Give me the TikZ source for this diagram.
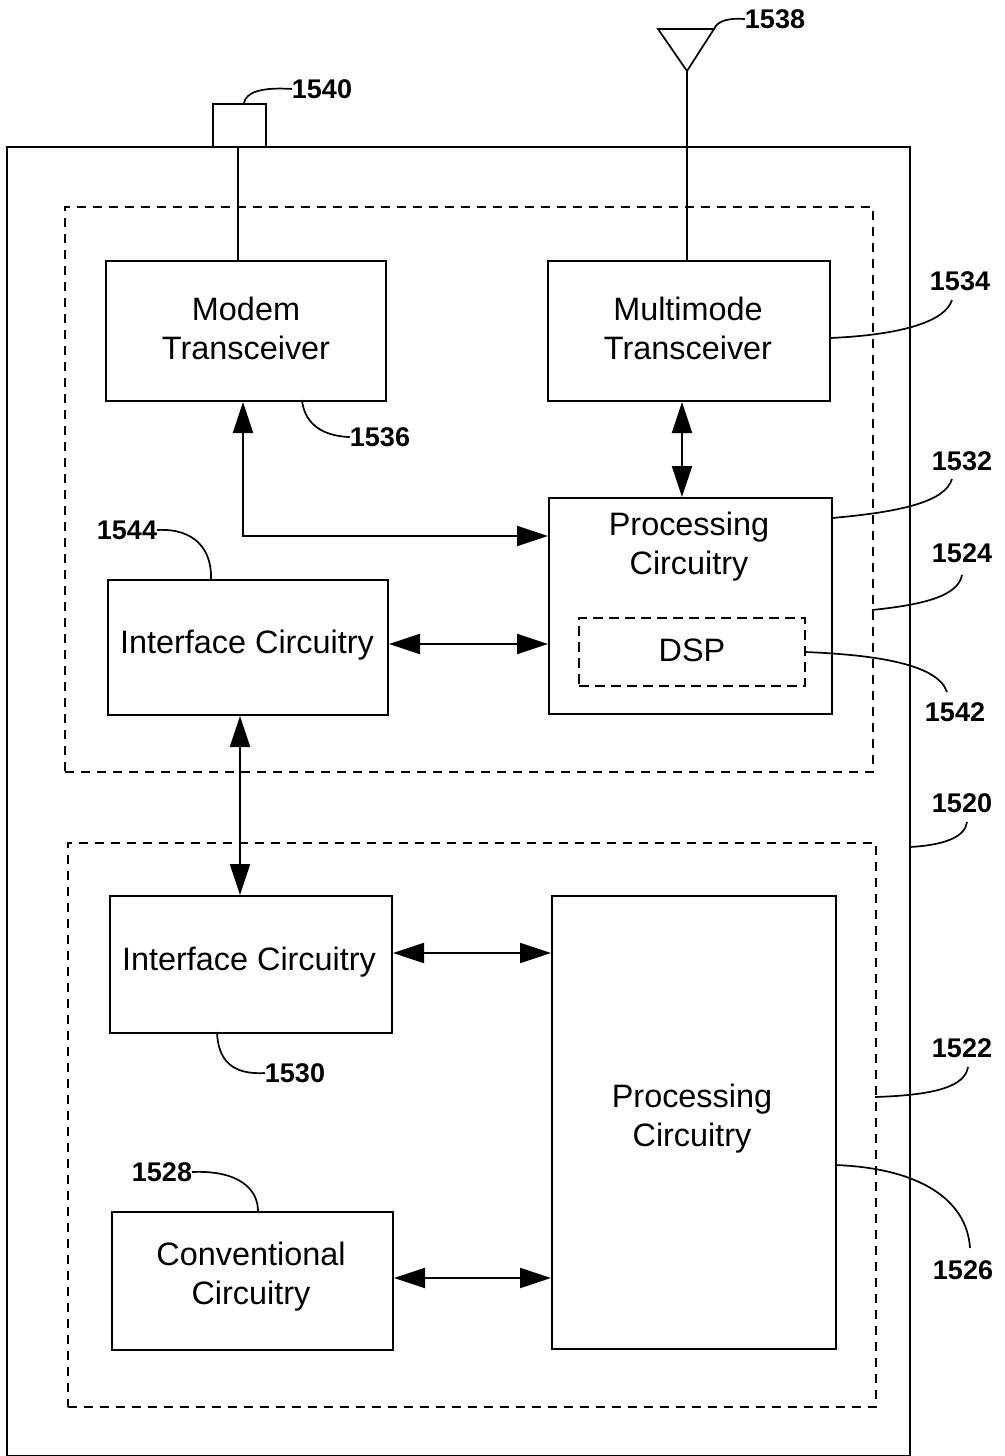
\documentclass[tikz,border=0pt]{standalone}
\usepackage{fontspec}
\setmainfont{Liberation Sans}
\usetikzlibrary{arrows.meta,calc}
\begin{document}
\begin{tikzpicture}[x=1pt,y=-1pt,
  box/.style={draw,line width=2pt,inner sep=0pt,anchor=north west},
  dbox/.style={draw,line width=2.2pt,dash pattern=on 9pt off 7pt,inner sep=0pt,anchor=north west},
  txt/.style={font=\fontsize{32.4}{39}\selectfont,align=center,inner sep=0pt},
  num/.style={font=\fontsize{27}{30}\bfseries\selectfont,inner sep=0pt},
  lead/.style={line width=1.7pt},
  wire/.style={line width=1.7pt},
  biarrow/.style={line width=2.2pt,{Triangle[length=31pt,width=20pt]}-{Triangle[length=31pt,width=20pt]}}
]
\useasboundingbox (0,0) rectangle (1004,1456);
% outer device
\node[box,minimum width=903pt,minimum height=1309pt] (outer) at (6,146) {};
\node[dbox,minimum width=808pt,minimum height=565pt] (dashu) at (64,206) {};
\node[dbox,minimum width=808pt,minimum height=564pt] (dashl) at (67,842) {};
% connector and antenna
\node[box,minimum width=53pt,minimum height=43pt] (conn) at (212,103) {};
\coordinate (antl) at (658,29);
\coordinate (antr) at (714,29);
\coordinate (anta) at (687,71);
\draw[line width=1.7pt,line join=miter] (antl) -- (antr) -- (anta) -- cycle;
% boxes
\node[box,minimum width=280pt,minimum height=140pt] (modem) at (105,260) {};
\node[box,minimum width=282pt,minimum height=140pt] (mm) at (547,260) {};
\node[box,minimum width=283pt,minimum height=216pt] (procu) at (548,497) {};
\node[draw,line width=2pt,dash pattern=on 10pt off 6pt,inner sep=0pt,anchor=north west,minimum width=226pt,minimum height=68pt] (dsp) at (578,617) {};
\node[box,minimum width=280pt,minimum height=135pt] (ifu) at (107,579) {};
\node[box,minimum width=282pt,minimum height=137pt] (ifl) at (109,895) {};
\node[box,minimum width=284pt,minimum height=453pt] (procl) at (551,895) {};
\node[box,minimum width=281pt,minimum height=138pt] (conv) at (111,1211) {};
% texts
\node[txt] (modemt) at (246,328) {Modem\\Transceiver};
\node[txt] (mmt) at (688,328) {Multimode\\Transceiver};
\node[txt] (procut) at (689,547) {Processing\\Circuitry};
\node[txt] (dspt) at (692,650) {DSP};
\node[txt] (ifut) at (247,645) {Interface Circuitry};
\node[txt] (iflt) at (249,962) {Interface Circuitry};
\node[txt] (proclt) at (692,1119) {Processing\\Circuitry};
\node[txt] (convt) at (251,1277) {Conventional\\Circuitry};
% wires
\coordinate (x238) at (238,0);
\draw[wire] (conn.south -| x238) -- (modem.north -| x238);
\draw[wire] (anta) -- (mm.north -| anta);
% arrows
\coordinate (x243) at (243,0);
\coordinate (y536) at (0,536);
\coordinate (x682) at (682,0);
\coordinate (x240) at (240,0);
\coordinate (y644) at (0,644);
\coordinate (y953) at (0,953);
\coordinate (y1278) at (0,1278);
\draw[biarrow] (modem.south -| x243) |- (procu.west |- y536);
\draw[biarrow] (mm.south -| x682) -- (procu.north -| x682);
\draw[biarrow] (ifu.east |- y644) -- (procu.west |- y644);
\draw[biarrow] (ifu.south -| x240) -- (ifl.north -| x240);
\draw[biarrow] (ifl.east |- y953) -- (procl.west |- y953);
\draw[biarrow] (conv.east |- y1278) -- (procl.west |- y1278);
% labels
\node[num] (n1540) at (322,89) {1540};
\node[num] (n1538) at (775,19) {1538};
\node[num] (n1534) at (960,281) {1534};
\node[num] (n1532) at (962,461) {1532};
\node[num] (n1524) at (962,553) {1524};
\node[num] (n1542) at (955,712) {1542};
\node[num] (n1520) at (962,803) {1520};
\node[num] (n1522) at (962,1048) {1522};
\node[num] (n1526) at (963,1270) {1526};
\node[num] (n1536) at (380,437) {1536};
\node[num] (n1544) at (127,530) {1544};
\node[num] (n1530) at (295,1073) {1530};
\node[num] (n1528) at (162,1172) {1528};
% leader ends
\coordinate (e1534) at (952,300);
\coordinate (e1532) at (952,479);
\coordinate (e1524) at (962,575);
\coordinate (e1542) at (947,692);
\coordinate (e1520) at (967,822);
\coordinate (e1522) at (968,1067);
\coordinate (e1526) at (970,1248);
% leaders
\coordinate (c1540) at (244,103);
\draw[lead] (c1540) .. controls (246,92) and (262,87) .. (n1540.west);
\draw[lead] (antr) .. controls (718,20) and (730,18) .. (n1538.west);
\coordinate (c1534) at (830,338);
\draw[lead] (c1534) .. controls (900,335) and (945,322) .. (e1534);
\coordinate (c1532) at (832,518);
\draw[lead] (c1532) .. controls (900,512) and (945,502) .. (e1532);
\coordinate (c1524) at (872,610);
\draw[lead] (c1524) .. controls (920,605) and (958,597) .. (e1524);
\coordinate (c1542) at (805,652);
\draw[lead] (c1542) .. controls (880,655) and (938,665) .. (e1542);
\coordinate (c1520) at (910,847);
\draw[lead] (c1520) .. controls (945,845) and (965,837) .. (e1520);
\coordinate (c1522) at (875,1097);
\draw[lead] (c1522) .. controls (940,1095) and (965,1085) .. (e1522);
\coordinate (c1526) at (835,1165);
\draw[lead] (c1526) .. controls (920,1168) and (967,1200) .. (e1526);
\coordinate (c1536) at (302,400);
\draw[lead] (c1536) .. controls (304,420) and (318,436) .. (n1536.west);
\coordinate (c1544) at (211,579);
\draw[lead] (n1544.east) .. controls (195,528) and (212,550) .. (c1544);
\coordinate (c1530) at (217,1032);
\draw[lead] (c1530) .. controls (218,1060) and (232,1075) .. (n1530.west);
\coordinate (c1528) at (258,1211);
\draw[lead] (n1528.east) .. controls (240,1170) and (258,1190) .. (c1528);
\end{tikzpicture}
\end{document}
